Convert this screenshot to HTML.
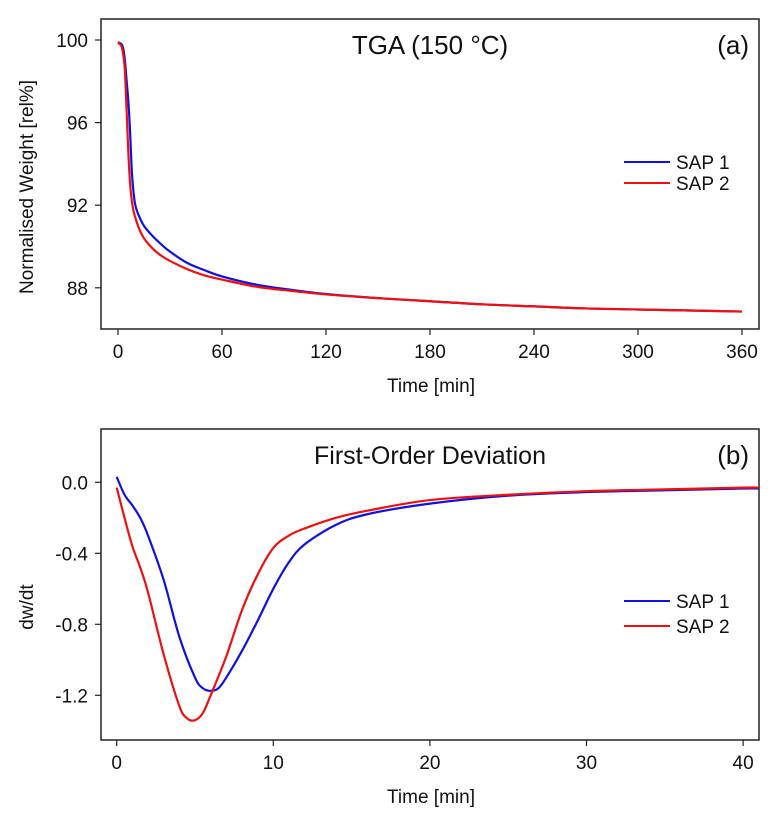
<!DOCTYPE html>
<html><head><meta charset="utf-8"><style>
html,body{margin:0;padding:0;background:#fff;}
svg{display:block;font-family:"Liberation Sans",Arial,sans-serif;}
</style></head><body>
<svg id="c" width="780" height="817" viewBox="0 0 780 817"></svg>
<script>
const tgaTime=[0,1,2,3,4,5,6,7,8,9,10,12,15,20,25,30,40,50,60,80,100,120,150,180,210,240,270,300,330,360];
const tgaSap1=[99.9,99.85,99.8,99.6,99.0,98.0,97.0,95.5,93.6,92.6,92.0,91.5,91.0,90.5,90.1,89.75,89.2,88.85,88.55,88.15,87.9,87.7,87.5,87.35,87.2,87.1,87.0,86.95,86.9,86.85];
const tgaSap2=[99.9,99.8,99.7,99.3,98.5,96.5,94.5,93.0,92.2,91.7,91.4,90.9,90.4,89.9,89.55,89.3,88.9,88.6,88.4,88.05,87.85,87.68,87.5,87.35,87.2,87.1,87.0,86.95,86.9,86.85];
const tgaXTicks=[0,60,120,180,240,300,360];
const tgaYTicks=[88,92,96,100];
const dTime1=[0,0.5,1,1.5,2,3,4,5,5.5,6,6.5,7,8,9,10,11,12,14,16,20,25,30,35,40,41];
const dSap1=[0.03,-0.07,-0.13,-0.2,-0.3,-0.55,-0.87,-1.1,-1.16,-1.175,-1.16,-1.1,-0.95,-0.78,-0.6,-0.45,-0.35,-0.24,-0.18,-0.12,-0.075,-0.055,-0.045,-0.035,-0.035];
const dTime2=[0,0.5,1,1.5,2,3,4,4.5,5,5.5,6,7,8,9,10,11,12,14,16,20,25,30,35,40,41];
const dSap2=[-0.03,-0.2,-0.36,-0.48,-0.62,-0.97,-1.26,-1.33,-1.34,-1.3,-1.2,-0.98,-0.72,-0.52,-0.37,-0.3,-0.26,-0.2,-0.16,-0.1,-0.07,-0.05,-0.04,-0.03,-0.03];
const dXTicks=[0,10,20,30,40];
const dYTicks=[0.0,-0.4,-0.8,-1.2];

const svg=document.getElementById('c');
const NS='http://www.w3.org/2000/svg';
function mk(tag,attrs,parent){const e=document.createElementNS(NS,tag);for(const k in attrs)e.setAttribute(k,attrs[k]);(parent||svg).appendChild(e);return e;}
function smooth(pts){let d='M'+pts[0][0]+','+pts[0][1];for(let i=0;i<pts.length-1;i++){const p0=pts[Math.max(i-1,0)],p1=pts[i],p2=pts[i+1],p3=pts[Math.min(i+2,pts.length-1)];const c1=[p1[0]+(p2[0]-p0[0])/6,p1[1]+(p2[1]-p0[1])/6],c2=[p2[0]-(p3[0]-p1[0])/6,p2[1]-(p3[1]-p1[1])/6];d+=' C'+c1[0].toFixed(2)+','+c1[1].toFixed(2)+' '+c2[0].toFixed(2)+','+c2[1].toFixed(2)+' '+p2[0].toFixed(2)+','+p2[1].toFixed(2);}return d;}

function panel(o){
  const g=mk('g',{});
  
  
  const fr=mk('rect',{x:101,y:o.top,width:658,height:o.bottom-o.top,fill:'none',stroke:'#222','stroke-width':1.5},g);
  
  
  o.xt.forEach(v=>{const x=o.sx(v);
    mk('line',{x1:x,x2:x,y1:o.bottom,y2:o.bottom+6,stroke:'#222','stroke-width':1.2},g);
    const t=mk('text',{x:x,y:o.bottom+29,'font-size':19,'text-anchor':'middle',fill:'#111'},g);t.textContent=v;
    
    });
  o.yt.forEach(v=>{const y=o.sy(v);
    mk('line',{x1:95,x2:101,y1:y,y2:y,stroke:'#222','stroke-width':1.2},g);
    const t=mk('text',{x:88,y:y+7,'font-size':19,'text-anchor':'end',fill:'#111'},g);t.textContent=o.fmt(v);
    
    });
  const xl=mk('text',{x:431,y:o.bottom+63,'font-size':19,'text-anchor':'middle',fill:'#111'},g);xl.textContent='Time [min]';
  
  
  const yl=mk('text',{x:0,y:0,'font-size':19,'text-anchor':'middle',fill:'#111',transform:'translate(33,'+o.ymid+') rotate(-90)'},g);yl.textContent=o.ylab;
  
  
  const ti=mk('text',{x:430,y:o.top+o.tOff,'font-size':o.tSize,'text-anchor':'middle',fill:'#111'},g);ti.textContent=o.title;
  
  
  const lb=mk('text',{x:749,y:o.top+35,'font-size':26,'text-anchor':'end',fill:'#111'},g);lb.textContent=o.tag;
  
  
  const cp='cp'+o.top;
  const defs=mk('defs',{},g);const c=mk('clipPath',{id:cp},defs);mk('rect',{x:101,y:o.top,width:658,height:o.bottom-o.top},c);
  o.series.forEach(s=>{
    const p=mk('path',{d:smooth(s.t.map((t,i)=>[o.sx(t),o.sy(s.v[i])])),fill:'none',stroke:s.c,'stroke-width':2.2,'clip-path':'url(#'+cp+')'},g);
    
    
  });
  o.series.forEach((s,i)=>{const y=o.ly+i*o.lgap;
    const l=mk('line',{x1:624,x2:670,y1:y,y2:y,stroke:s.c,'stroke-width':2},g);
    
    
    const t=mk('text',{x:676,y:y+7,'font-size':19,fill:'#111'},g);t.textContent=s.label;
    
    });
}
panel({name:'tga-panel',top:19,bottom:329,sx:v=>118+v*104/60,sy:v=>40+(100-v)*82.6/4,xt:tgaXTicks,yt:tgaYTicks,fmt:v=>String(v),ymid:187,ylab:'Normalised Weight [rel%]',title:'TGA (150 °C)',tOff:35,tSize:26,tag:'(a)',ly:162,lgap:21,
  series:[{t:tgaTime,v:tgaSap1,c:'#1010e0',n:'tga-sap1-line',label:'SAP 1'},{t:tgaTime,v:tgaSap2,c:'#ee1010',n:'tga-sap2-line',label:'SAP 2'}]});
panel({name:'derivative-panel',top:429,bottom:740,sx:v=>116.7+v*15.66,sy:v=>482.3-v*177.5,xt:dXTicks,yt:dYTicks,fmt:v=>v.toFixed(1),ymid:607,ylab:'dw/dt',title:'First-Order Deviation',tOff:35,tSize:25,tag:'(b)',ly:601,lgap:25,
  series:[{t:dTime1,v:dSap1,c:'#1010e0',n:'deriv-sap1-line',label:'SAP 1'},{t:dTime2,v:dSap2,c:'#ee1010',n:'deriv-sap2-line',label:'SAP 2'}]});
</script>
</body></html>
